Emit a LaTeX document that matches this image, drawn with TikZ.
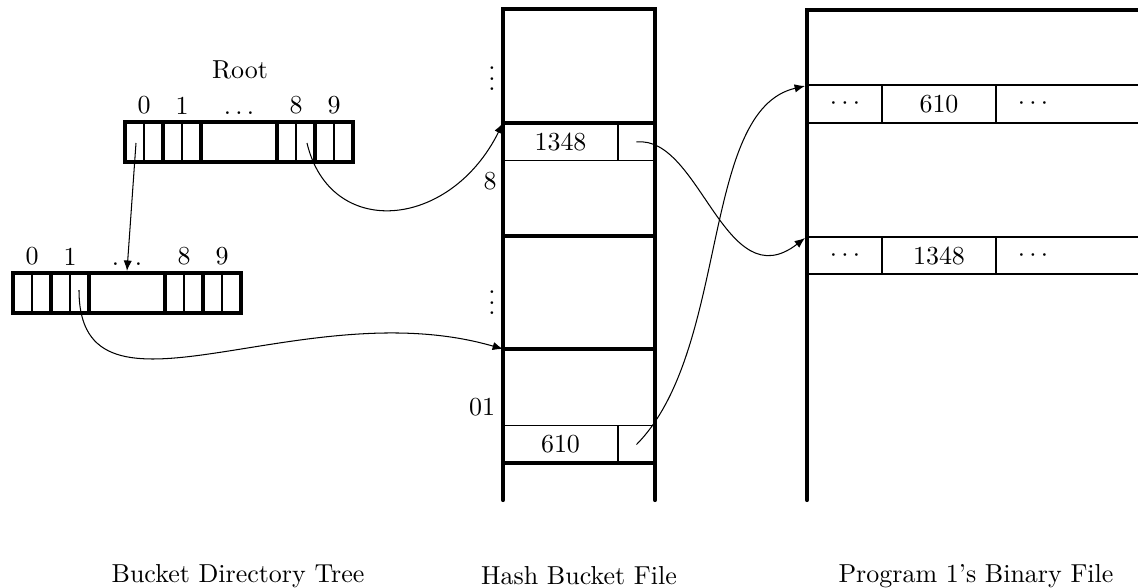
\documentclass[tikz,border=0pt]{standalone}
\usetikzlibrary{arrows.meta}
\tikzset{
  cell/.style={draw,ultra thick,minimum width=14.63pt,minimum height=15.4pt,inner sep=0pt},
  widecell/.style={cell,minimum width=29.26pt},
  idx/.style={inner sep=2pt},
  rec/.style={draw,thin,minimum height=14.5pt,inner sep=0pt},
  wall/.style={ultra thick,line cap=round},
  ptr/.style={-{Latex[length=4pt,width=3.2pt]},thin},
}

\begin{document}
\begin{tikzpicture}[x=0.385pt,y=-0.385pt]
  \useasboundingbox (0,0) rectangle (1138,587);
  % root array
  \node[cell,label={[idx]above:0}] (r0) at (144,142) {};
  \node[cell,label={[idx]above:1}] (r1) at (182,142) {};
  \node[widecell,label={[idx]above:$\dots$}] (rd) at (239,142) {};
  \node[cell,label={[idx]above:8}] (r8) at (296,142) {};
  \node[cell,label={[idx]above:9}] (r9) at (334,142) {};
  \node (root) at (240,70) {Root};
  % second level array
  \node[cell,label={[idx]above:0}] (l0) at (32,293) {};
  \node[cell,label={[idx]above:1}] (l1) at (70,293) {};
  \node[widecell,label={[idx]above:$\dots$}] (ld) at (127,293) {};
  \node[cell,label={[idx]above:8}] (l8) at (184,293) {};
  \node[cell,label={[idx]above:9}] (l9) at (222,293) {};
  \foreach \c in {r0,r1,r8,r9,l0,l1,l8,l9}
    \draw[thin] (\c.north) -- (\c.south);
  \coordinate (r0p) at (136,143);
  \coordinate (r8p) at (307,143);
  \coordinate (l1p) at (79,290);
  % hash bucket file
  \draw[wall] (503,500) -- (503,9) -- (655,9) -- (655,500);
  \foreach \y in {123,236,349,463}
    \draw[ultra thick] (503,\y) -- (655,\y);
  \node[rec,minimum width=44.28pt] (h1348) at (560.5,142) {1348};
  \node[rec,minimum width=14.25pt] (h1348p) at (636.5,142) {};
  \node[rec,minimum width=44.28pt] (h610) at (560.5,444.5) {610};
  \node[rec,minimum width=14.25pt] (h610p) at (636.5,444.5) {};
  \node (dots1) at (492,71) {$\vdots$};
  \node (key8) at (490,181) {8};
  \node (dots2) at (492,295) {$\vdots$};
  \node (key01) at (482,407) {01};
  \coordinate (b8) at (503,123);
  \coordinate (b01) at (503,349);
  % binary file
  \draw[wall] (807,500) -- (807,10) -- (1145,10);
  \draw[thin] (807,85) -- (1145,85) (807,123) -- (1145,123)
    (882,85) -- (882,123) (996,85) -- (996,123);
  \draw[thin] (807,237) -- (1145,237) (807,274) -- (1145,274)
    (882,237) -- (882,274) (996,237) -- (996,274);
  \node (f1) at (845,104) {$\cdots$};
  \node (f610) at (939,104) {610};
  \node (f2) at (1033,104) {$\cdots$};
  \node (g1) at (845,255.5) {$\cdots$};
  \node (g1348) at (939,255.5) {1348};
  \node (g2) at (1033,255.5) {$\cdots$};
  \coordinate (p610) at (805,86);
  \coordinate (p1348) at (805,238);
  % pointers
  \draw[ptr] (r0p) -- (ld.north);
  \draw[ptr] (r8p) .. controls (330,240) and (450,230) .. (b8);
  \draw[ptr] (l1p) .. controls (79,440) and (300,290) .. (b01);
  \draw[ptr] (h1348p.center) .. controls (700,135) and (725,300) .. (p1348);
  \draw[ptr] (h610p.center) .. controls (730,350) and (700,110) .. (p610);
  % captions
  \node (cap1) at (238,576) {Bucket Directory Tree};
  \node (cap2) at (579,576) {Hash Bucket File};
  \node (cap3) at (976,576) {Program 1's Binary File};
\end{tikzpicture}
\end{document}
